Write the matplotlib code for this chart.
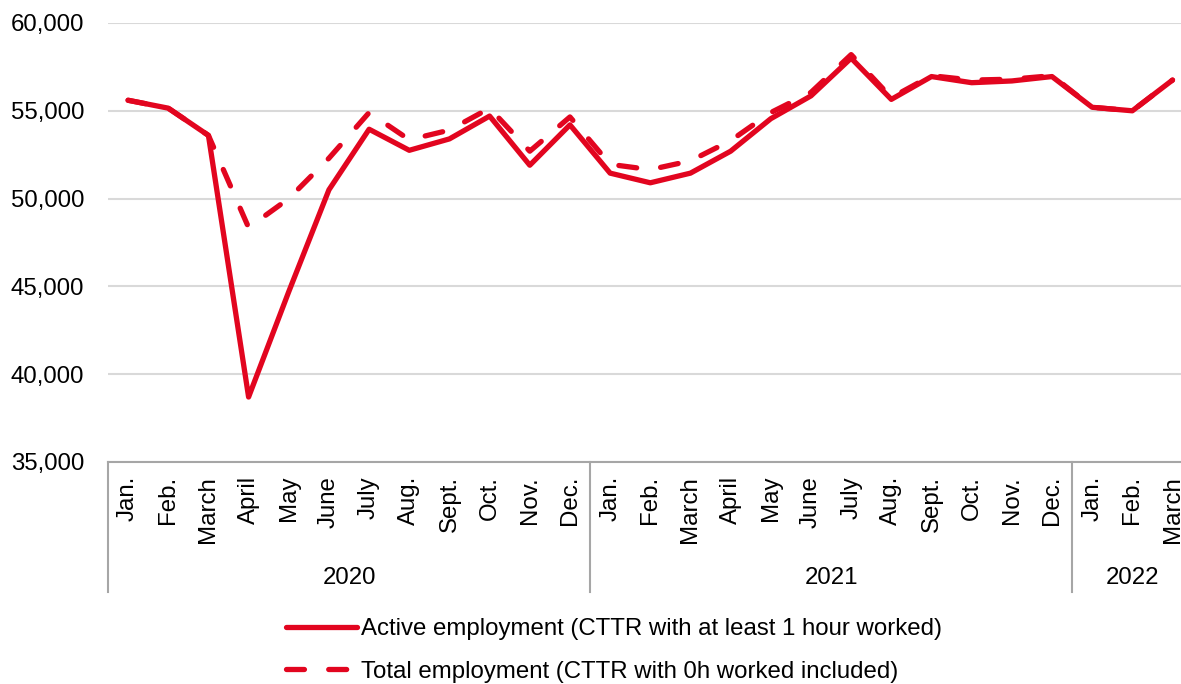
import matplotlib.pyplot as plt

plt.rcParams['font.family'] = ['Liberation Sans', 'DejaVu Sans']

months = ['Jan.', 'Feb.', 'March', 'April', 'May', 'June', 'July', 'Aug.',
          'Sept.', 'Oct.', 'Nov.', 'Dec.']
years = ['2020', '2021', '2022']
year_lengths = [12, 12, 3]

month_labels = months * 2 + months[:3]

# CTTR with at least one hour worked
active = [55600, 55150, 53600, 38700, 44700, 50500, 53950, 52750, 53400, 54700, 51900, 54200,
          51450, 50900, 51450, 52700, 54550, 55850, 58000, 55650, 56950, 56600, 56700, 56950,
          55200, 55000, 56750]
# CTTR including people with 0 hours worked
total = [55600, 55150, 53600, 48350, 50000, 52300, 54900, 53350, 53900, 55150, 52700, 54650,
         51950, 51650, 52150, 53300, 54900, 56050, 58200, 55750, 57000, 56750, 56800, 57000,
         55200, 55000, 56750]

red = '#e2051f'
W, H = 1181, 684
fs = 17.3

fig = plt.figure(figsize=(W / 100, H / 100), dpi=100)
ax = fig.add_axes([108 / W, 222 / H, 27 * 40.17 / W, 439 / H])

x = list(range(len(active)))
ax.plot(x, active, color=red, lw=3.8, solid_capstyle='round', solid_joinstyle='round',
        label='Active employment (CTTR with at least 1 hour worked)', zorder=3)
ax.plot(x, total, color=red, lw=3.8, dashes=(3.4, 4.6), dash_capstyle='round',
        dash_joinstyle='round',
        label='Total employment (CTTR with 0h worked included)', zorder=3)

ax.set_xlim(-0.5, len(x) - 0.5)
ax.set_ylim(35000, 60000)
ax.set_yticks(range(35000, 60001, 5000))
ax.set_yticklabels([f'{v:,}' for v in range(35000, 60001, 5000)])
ax.yaxis.grid(True, color='#d9d9d9', lw=1.5)
ax.set_axisbelow(True)

ax.set_xticks(x)
ax.set_xticklabels(month_labels, rotation=90)
ax.tick_params(axis='both', length=0, labelsize=fs, colors='black')
ax.tick_params(axis='x', pad=10)
ax.tick_params(axis='y', pad=17)

for s in ['top', 'right', 'left']:
    ax.spines[s].set_visible(False)
ax.spines['bottom'].set_color('#a6a6a6')
ax.spines['bottom'].set_linewidth(1.5)

# year groups under the month labels
trans = ax.get_xaxis_transform()
sep_bottom = -130 / 439
start = 0
for yr, n in zip(years, year_lengths):
    ax.plot([start - 0.5, start - 0.5], [0, sep_bottom], color='#a6a6a6', lw=1.5,
            transform=trans, clip_on=False)
    ax.text(start + n / 2 - 0.5, -116 / 439, yr, transform=trans, ha='center', va='center',
            fontsize=fs)
    start += n

fig.legend(loc='center', bbox_to_anchor=(614 / W, 1 - 650.5 / H), frameon=False,
           fontsize=fs, handlelength=2.95, handletextpad=0.2, labelspacing=0.85,
           borderpad=0)

fig.savefig('out.png', dpi=100)
